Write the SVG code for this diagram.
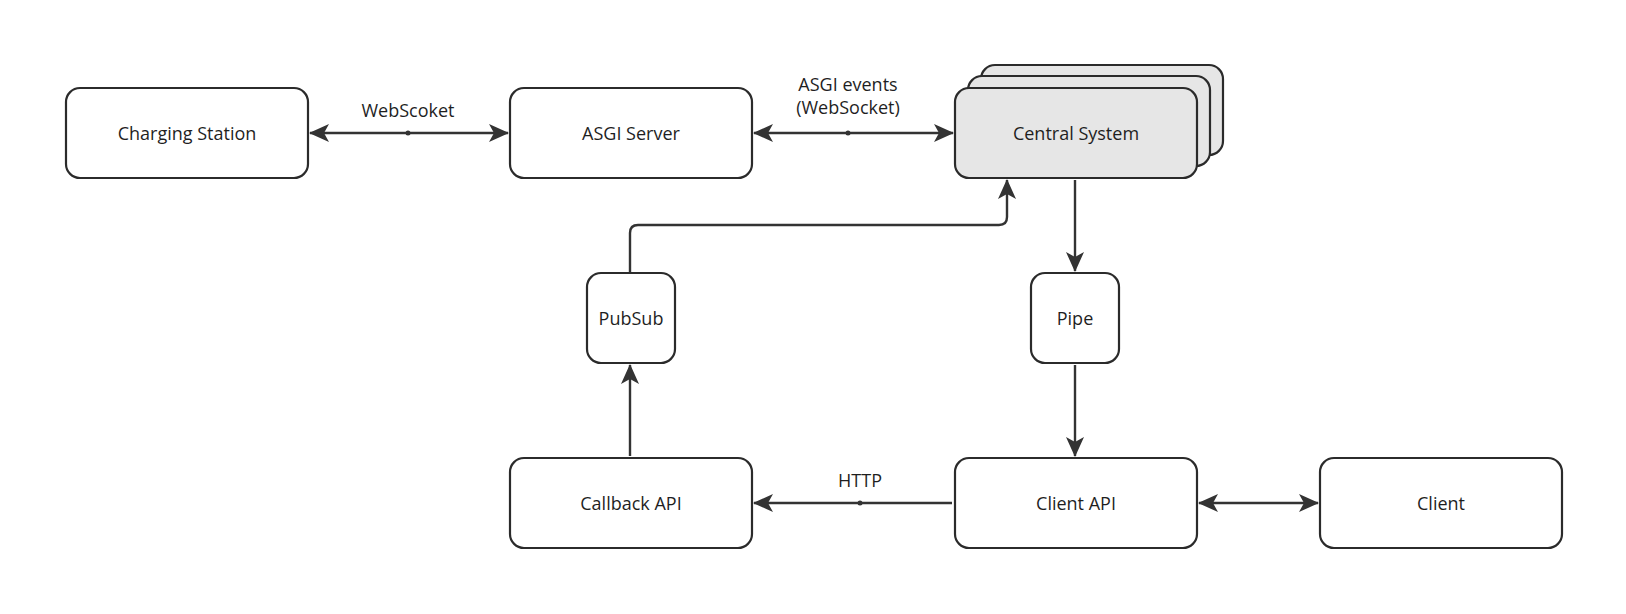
<svg xmlns="http://www.w3.org/2000/svg" width="1626" height="614" viewBox="0 0 1626 614">
<defs>
<style>
.box{fill:#fff;stroke:#2b2b2b;stroke-width:2.2}
.gray{fill:#e6e6e6;stroke:#2b2b2b;stroke-width:2.2}
.t{font-family:"Open Sans","Noto Sans",sans-serif;font-size:18px;fill:#1f1f1f;text-anchor:middle;dominant-baseline:central}
.c{fill:none;stroke:#333;stroke-width:2.4}
.dot{fill:#333}
</style>
<marker id="ah" markerUnits="userSpaceOnUse" viewBox="0 0 20 20" markerWidth="20" markerHeight="20" refX="19" refY="10" orient="auto-start-reverse">
<path d="M0,1 L20,10 L0,19 L5,10 z" fill="#333"/>
</marker>
</defs>
<rect width="1626" height="614" fill="#fff"/>
<g id="connectors">
<line class="c" x1="310" y1="133" x2="508" y2="133" marker-start="url(#ah)" marker-end="url(#ah)"/>
<circle class="dot" cx="408" cy="133" r="2.5"/>
<line class="c" x1="754" y1="133" x2="953" y2="133" marker-start="url(#ah)" marker-end="url(#ah)"/>
<circle class="dot" cx="848" cy="133" r="2.5"/>
<path class="c" d="M630,272 V233 Q630,225 638,225 H999 Q1007,225 1007,217 V180" marker-end="url(#ah)"/>
<line class="c" x1="1075" y1="180" x2="1075" y2="271" marker-end="url(#ah)"/>
<line class="c" x1="1075" y1="365" x2="1075" y2="456" marker-end="url(#ah)"/>
<line class="c" x1="630" y1="456" x2="630" y2="365" marker-end="url(#ah)"/>
<line class="c" x1="952" y1="503" x2="754" y2="503" marker-end="url(#ah)"/>
<circle class="dot" cx="860" cy="503" r="2.5"/>
<line class="c" x1="1199" y1="503" x2="1318" y2="503" marker-start="url(#ah)" marker-end="url(#ah)"/>
<text class="t" x="408" y="110">WebScoket</text>
<text class="t" x="848" y="84">ASGI events</text>
<text class="t" x="848" y="107">(WebSocket)</text>
<text class="t" x="860" y="480">HTTP</text>
</g>
<g id="charging-station">
<rect class="box" x="66" y="88" width="242" height="90" rx="14"/>
<text class="t" x="187" y="133">Charging Station</text>
</g>
<g id="asgi-server">
<rect class="box" x="510" y="88" width="242" height="90" rx="14"/>
<text class="t" x="631" y="133">ASGI Server</text>
</g>
<g id="central-system">
<rect class="gray" x="981" y="65" width="242" height="90" rx="14"/>
<rect class="gray" x="968" y="76" width="242" height="90" rx="14"/>
<rect class="gray" x="955" y="88" width="242" height="90" rx="14"/>
<text class="t" x="1076" y="133">Central System</text>
</g>
<g id="pubsub">
<rect class="box" x="587" y="273" width="88" height="90" rx="14"/>
<text class="t" x="631" y="318">PubSub</text>
</g>
<g id="pipe">
<rect class="box" x="1031" y="273" width="88" height="90" rx="14"/>
<text class="t" x="1075" y="318">Pipe</text>
</g>
<g id="callback-api">
<rect class="box" x="510" y="458" width="242" height="90" rx="14"/>
<text class="t" x="631" y="503">Callback API</text>
</g>
<g id="client-api">
<rect class="box" x="955" y="458" width="242" height="90" rx="14"/>
<text class="t" x="1076" y="503">Client API</text>
</g>
<g id="client">
<rect class="box" x="1320" y="458" width="242" height="90" rx="14"/>
<text class="t" x="1441" y="503">Client</text>
</g>
</svg>
